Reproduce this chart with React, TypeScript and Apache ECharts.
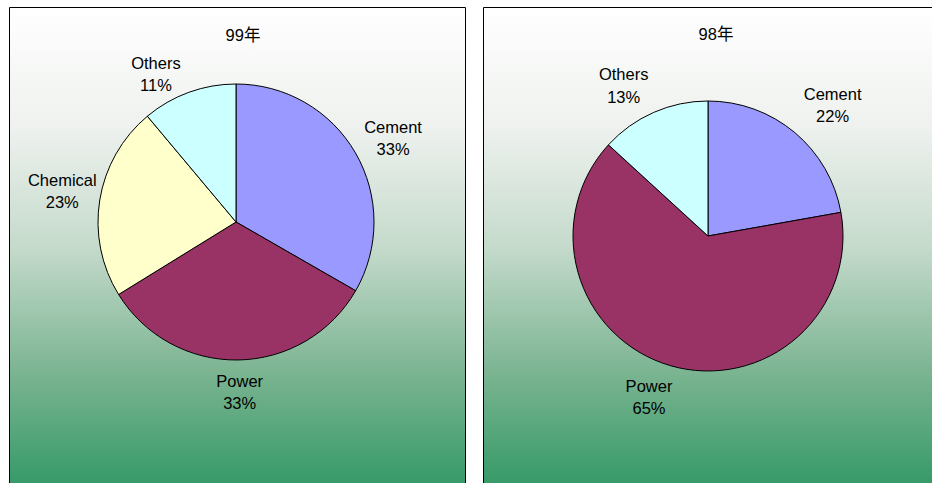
import React, { useEffect, useRef } from "react";
import * as echarts from "echarts";

const CATEGORIES_99 = ["Cement", "Power", "Chemical", "Others"];
const VALUES_99 = [33.3, 32.9, 22.7, 11.1];
const TITLE_99 = "99年";

const CATEGORIES_98 = ["Cement", "Power", "Others"];
const VALUES_98 = [22.2, 64.6, 13.2];
const TITLE_98 = "98年";

const COLORS: Record<string, string> = {
  Cement: "#9999FF",
  Power: "#993366",
  Chemical: "#FFFFCC",
  Others: "#CCFFFF",
};

// layout (pixels): label placed on the slice's mid-angle at labelDist, then nudged
const PIES = [
  {
    center: [236, 222],
    r: 138,
    labelDist: [178, 170, 177, 167],
    nudge: [[3, 5], [1, 0], [1, -3], [-23, 9]],
  },
  {
    center: [708, 236],
    r: 135,
    labelDist: [180, 172, 172],
    nudge: [[9, 7], [-11, -4], [-15, 7]],
  },
];

const FONT = "'Liberation Sans', Arial, 'Noto Sans CJK SC', sans-serif";

function labelPos(values: number[], idx: number, cx: number, cy: number, d: number) {
  const total = values.reduce((a, b) => a + b, 0);
  let before = 0;
  for (let i = 0; i < idx; i++) before += values[i];
  const mid = (before + values[idx] / 2) / total;
  const t = mid * Math.PI * 2;
  return { x: cx + d * Math.sin(t), y: cy - d * Math.cos(t) };
}

export default function App() {
  const ref = useRef<HTMLDivElement>(null);
  useEffect(() => {
    if (!ref.current) return;
    const chart = echarts.init(ref.current, null, { renderer: "svg" });
    const grad = () =>
      new echarts.graphic.LinearGradient(0, 0, 0, 1, [
        { offset: 0, color: "#ffffff" },
        { offset: 0.25, color: "#eef1ee" },
        { offset: 0.5, color: "#c4dacb" },
        { offset: 0.75, color: "#7db593" },
        { offset: 1, color: "#339966" },
      ]);
    const makeSeries = (cats: string[], vals: number[], p: any) => ({
      type: "pie",
      center: p.center,
      radius: p.r,
      startAngle: 90,
      clockwise: true,
      percentPrecision: 0,
      avoidLabelOverlap: false,
      z: 5,
      data: cats.map((c, i) => ({
        name: c,
        value: vals[i],
        itemStyle: { color: COLORS[c] },
      })),
      itemStyle: { borderColor: "#000", borderWidth: 1 },
      label: {
        show: true,
        position: "outside",
        formatter: "{b}\n{d}%",
        color: "#000",
        fontSize: 16.5,
        lineHeight: 22.5,
        fontFamily: FONT,
        align: "center",
      },
      labelLine: { show: false },
      labelLayout: (params: any) => {
        const i = params.dataIndex;
        const pos = labelPos(vals, i, p.center[0], p.center[1], p.labelDist[i]);
        return {
          x: pos.x + p.nudge[i][0],
          y: pos.y + p.nudge[i][1],
          align: "center",
          verticalAlign: "middle",
        };
      },
      emphasis: { disabled: true },
    });
    chart.setOption({
      animation: false,
      backgroundColor: "#ffffff",
      graphic: [
        {
          type: "rect",
          z: 0,
          shape: { x: 9.5, y: 7.5, width: 456, height: 482 },
          style: { fill: grad(), stroke: "#000", lineWidth: 1 },
        },
        {
          type: "rect",
          z: 0,
          shape: { x: 483.5, y: 7.5, width: 470, height: 482 },
          style: { fill: grad(), stroke: "#000", lineWidth: 1 },
        },
        {
          type: "text",
          z: 1,
          x: 243,
          y: 35,
          style: { text: TITLE_99, fontSize: 16.5, fontFamily: FONT, fill: "#000", textAlign: "center", textVerticalAlign: "middle" },
        },
        {
          type: "text",
          z: 1,
          x: 716,
          y: 34,
          style: { text: TITLE_98, fontSize: 16.5, fontFamily: FONT, fill: "#000", textAlign: "center", textVerticalAlign: "middle" },
        },
      ],
      series: [
        makeSeries(CATEGORIES_99, VALUES_99, PIES[0]),
        makeSeries(CATEGORIES_98, VALUES_98, PIES[1]),
      ],
    });
    return () => chart.dispose();
  }, []);
  return (
    <div
      ref={ref}
      style={{ position: "absolute", left: 0, top: 0, width: 932, height: 483 }}
    />
  );
}
